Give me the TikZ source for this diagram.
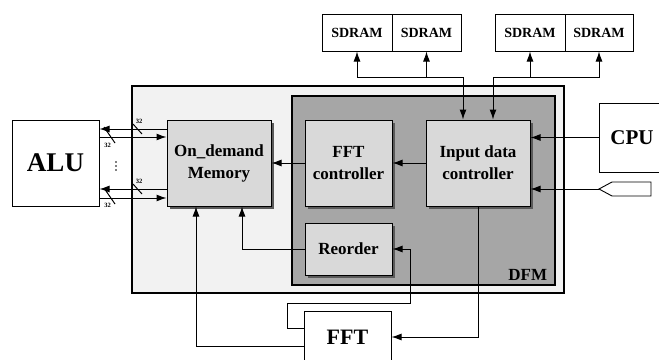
\documentclass[tikz,border=0pt]{standalone}
\usepackage{fontspec}
\setmainfont{Liberation Serif}
\usetikzlibrary{arrows.meta,shadows}
\definecolor{outerfill}{HTML}{F2F2F2}
\definecolor{dfmfill}{HTML}{A6A6A6}
\definecolor{boxfill}{HTML}{D9D9D9}
\definecolor{shadowgray}{HTML}{5A5A5A}
\begin{document}
\begin{tikzpicture}[x=1pt,y=-1pt,
  wire/.style={line width=1pt},
  arr/.style={wire,-{Latex[length=10pt,width=7pt]}},
  darr/.style={wire,{Latex[length=10pt,width=7pt]}-{Latex[length=10pt,width=7pt]}},
  shbox/.style={draw=black, line width=1pt, fill=boxfill,
    drop shadow={shadow xshift=3pt, shadow yshift=-3pt, fill=shadowgray, opacity=1},
    align=center, inner sep=0pt, font=\fontsize{17}{22}\selectfont\bfseries},
  wbox/.style={draw=black, line width=1pt, fill=white, align=center, inner sep=0pt},
  buslbl/.style={font=\fontsize{6.5}{6.5}\selectfont\bfseries, inner sep=0pt},
  dot/.style={fill=black, circle, inner sep=0pt, minimum size=1.6pt}
]
\useasboundingbox (0,0) rectangle (659,359);
\clip (0,0) rectangle (659,359);

% containers
\node[draw=black, line width=1.8pt, fill=outerfill, minimum width=432pt, minimum height=207pt, inner sep=0pt] (outer) at (348,189.5) {};
\node[draw=black, line width=2.5pt, fill=dfmfill, minimum width=263pt, minimum height=189pt, inner sep=0pt] (dfm) at (423.5,190.5) {};
\node[anchor=base east, font=\fontsize{17}{17}\selectfont\bfseries, inner sep=0pt] (dfmlbl) at ([xshift=-9pt,yshift=5.5pt]dfm.south east) {DFM};

% inner boxes
\node[shbox, minimum width=104pt, minimum height=86pt] (mem) at (219,163) {On\_demand\\Memory};
\node[shbox, minimum width=87pt, minimum height=86pt] (fftc) at (348.5,163) {FFT\\controller};
\node[shbox, minimum width=104pt, minimum height=86pt] (idc) at (478,163) {Input data\\controller};
\node[shbox, minimum width=87pt, minimum height=52pt] (reord) at (348.5,249) {Reorder};

% outside boxes
\node[wbox, minimum width=87pt, minimum height=86pt, font=\fontsize{27}{27}\selectfont\bfseries] (alu) at (55.5,163) {ALU};
\node[wbox, minimum width=87pt, minimum height=52pt, font=\fontsize{22}{22}\selectfont\bfseries] (fft) at (347.5,337) {FFT};
\node[wbox, minimum width=66pt, minimum height=69pt, font=\fontsize{21}{21}\selectfont\bfseries] (cpu) at (632,137.5) {CPU};

\node[wbox, minimum width=70pt, minimum height=37pt, font=\fontsize{14}{14}\selectfont\bfseries] (s1) at (357,32.5) {SDRAM};
\node[wbox, minimum width=69pt, minimum height=37pt, font=\fontsize{14}{14}\selectfont\bfseries] (s2) at (426.5,32.5) {SDRAM};
\node[wbox, minimum width=70pt, minimum height=37pt, font=\fontsize{14}{14}\selectfont\bfseries] (s3) at (530,32.5) {SDRAM};
\node[wbox, minimum width=68pt, minimum height=37pt, font=\fontsize{14}{14}\selectfont\bfseries] (s4) at (599,32.5) {SDRAM};

% input pin
\coordinate (pin) at (599,189);
\draw[line width=0.9pt, fill=white] (pin) -- (612,182) -- (651,182) -- (651,196) -- (612,196) -- cycle;

% SDRAM buses
\coordinate (j1) at (463,77);
\coordinate (j2) at (493,77);
\draw[darr] (s1.south) |- (j1) -- (j1 |- idc.north);
\draw[arr] (s2.south |- j1) -- (s2.south);
\draw[darr] (s4.south) |- (j2) -- (j2 |- idc.north);
\draw[arr] (s3.south |- j2) -- (s3.south);

% CPU and pin to IDC
\draw[arr] (cpu.west) -- (idc.east |- cpu.west);
\draw[arr] (pin) -- (idc.east |- pin);

% internal flow
\draw[arr] (idc.west) -- (fftc.east);
\draw[arr] (fftc.west) -- (mem.east);
\draw[arr] (reord.west) -| ([xshift=23pt]mem.south);
\draw[arr] ([yshift=-9pt]fft.west) -| ([xshift=-23pt]mem.south);
\coordinate (r1) at (410,303);
\draw[arr] ([yshift=9pt]fft.west) -- ++(-16,0) |- (r1) |- (reord.east);
\draw[arr] (idc.south) |- (fft.east);

% ALU buses
\draw[arr] ([yshift=34pt]mem.west) -- ([yshift=34pt]alu.east);
\draw[arr] ([yshift=26pt]alu.east) -- ([yshift=26pt]mem.west);
\draw[arr] ([yshift=-26pt]mem.west) -- ([yshift=-26pt]alu.east);
\draw[arr] ([yshift=-35pt]alu.east) -- ([yshift=-35pt]mem.west);

% bus width marks
\draw[wire] (133,124) -- (142,134);
\node[buslbl] (w1) at (139,121) {32};
\draw[wire] (104,127) -- (115,143);
\node[buslbl] (w2) at (107.5,145) {32};
\draw[wire] (133,184) -- (142,194);
\node[buslbl] (w3) at (139,181) {32};
\draw[wire] (104,188) -- (115,204);
\node[buslbl] (w4) at (107.5,205) {32};
\node[dot] (d1) at (116,162) {};
\node[dot] (d2) at (116,166) {};
\node[dot] (d3) at (116,170) {};
\end{tikzpicture}
\end{document}
